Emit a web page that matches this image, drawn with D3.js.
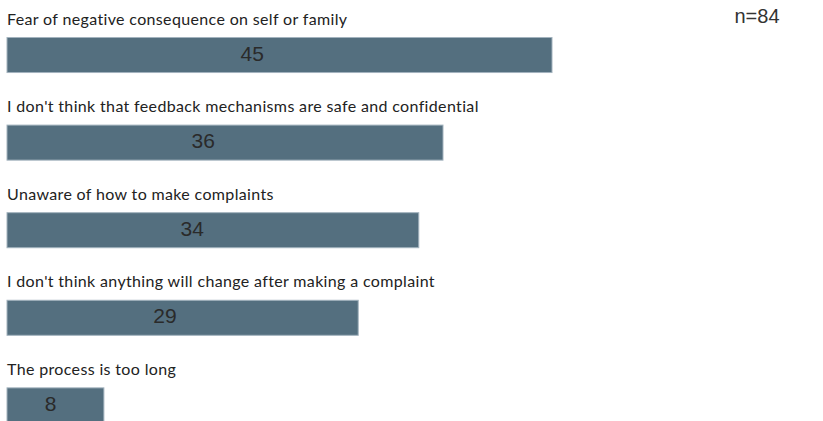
<!DOCTYPE html>
<html>
<head>
<meta charset="utf-8">
<script src="https://cdn.jsdelivr.net/npm/d3@7"></script>
<style>
  html, body { margin: 0; padding: 0; background: #fff; }
  svg { display: block; }
</style>
</head>
<body>
<svg id="chart" width="823" height="421"></svg>
<script>
// Reasons for not making complaints (number of respondents)
const categories = [
  "Fear of negative consequence on self or family",
  "I don't think that feedback mechanisms are safe and confidential",
  "Unaware of how to make complaints",
  "I don't think anything will change after making a complaint",
  "The process is too long"
];
const counts = [45, 36, 34, 29, 8];
const sampleLabel = "n=84";

const svg = d3.select("#chart");

const x = d3.scaleLinear().domain([0, 45]).range([7, 552]);
const y = d3.scaleBand()
  .domain(categories)
  .range([37.5, 422.9])
  .paddingInner(0.6)
  .paddingOuter(0)
  .align(0);

const rows = svg.selectAll("g.row")
  .data(categories.map((c, i) => ({ label: c, value: counts[i] })))
  .join("g")
  .attr("class", "row");

rows.append("text")
  .attr("x", 7)
  .attr("y", d => y(d.label) - 13)
  .attr("font-family", "Lato, 'Noto Sans', sans-serif")
  .attr("font-size", 16)
  .attr("letter-spacing", 0.35)
  .attr("fill", "#222")
  .text(d => d.label);

rows.append("rect")
  .attr("x", x(0))
  .attr("y", d => y(d.label))
  .attr("width", d => x(d.value) - x(0))
  .attr("height", y.bandwidth())
  .attr("fill", "#546f7f")
  .attr("stroke", "#a3b3be")
  .attr("stroke-width", 1);

rows.append("text")
  .attr("x", d => x(d.value * 0.45))
  .attr("y", d => y(d.label) + 23)
  .attr("text-anchor", "middle")
  .attr("font-family", "'Liberation Sans', Arial, sans-serif")
  .attr("font-size", 21)
  .attr("fill", "#2a2a2a")
  .text(d => d.value);

svg.append("text")
  .attr("x", 757)
  .attr("y", 23)
  .attr("text-anchor", "middle")
  .attr("font-family", "'Liberation Sans', Arial, sans-serif")
  .attr("font-size", 20)
  .attr("fill", "#333")
  .text(sampleLabel);
</script>
</body>
</html>
